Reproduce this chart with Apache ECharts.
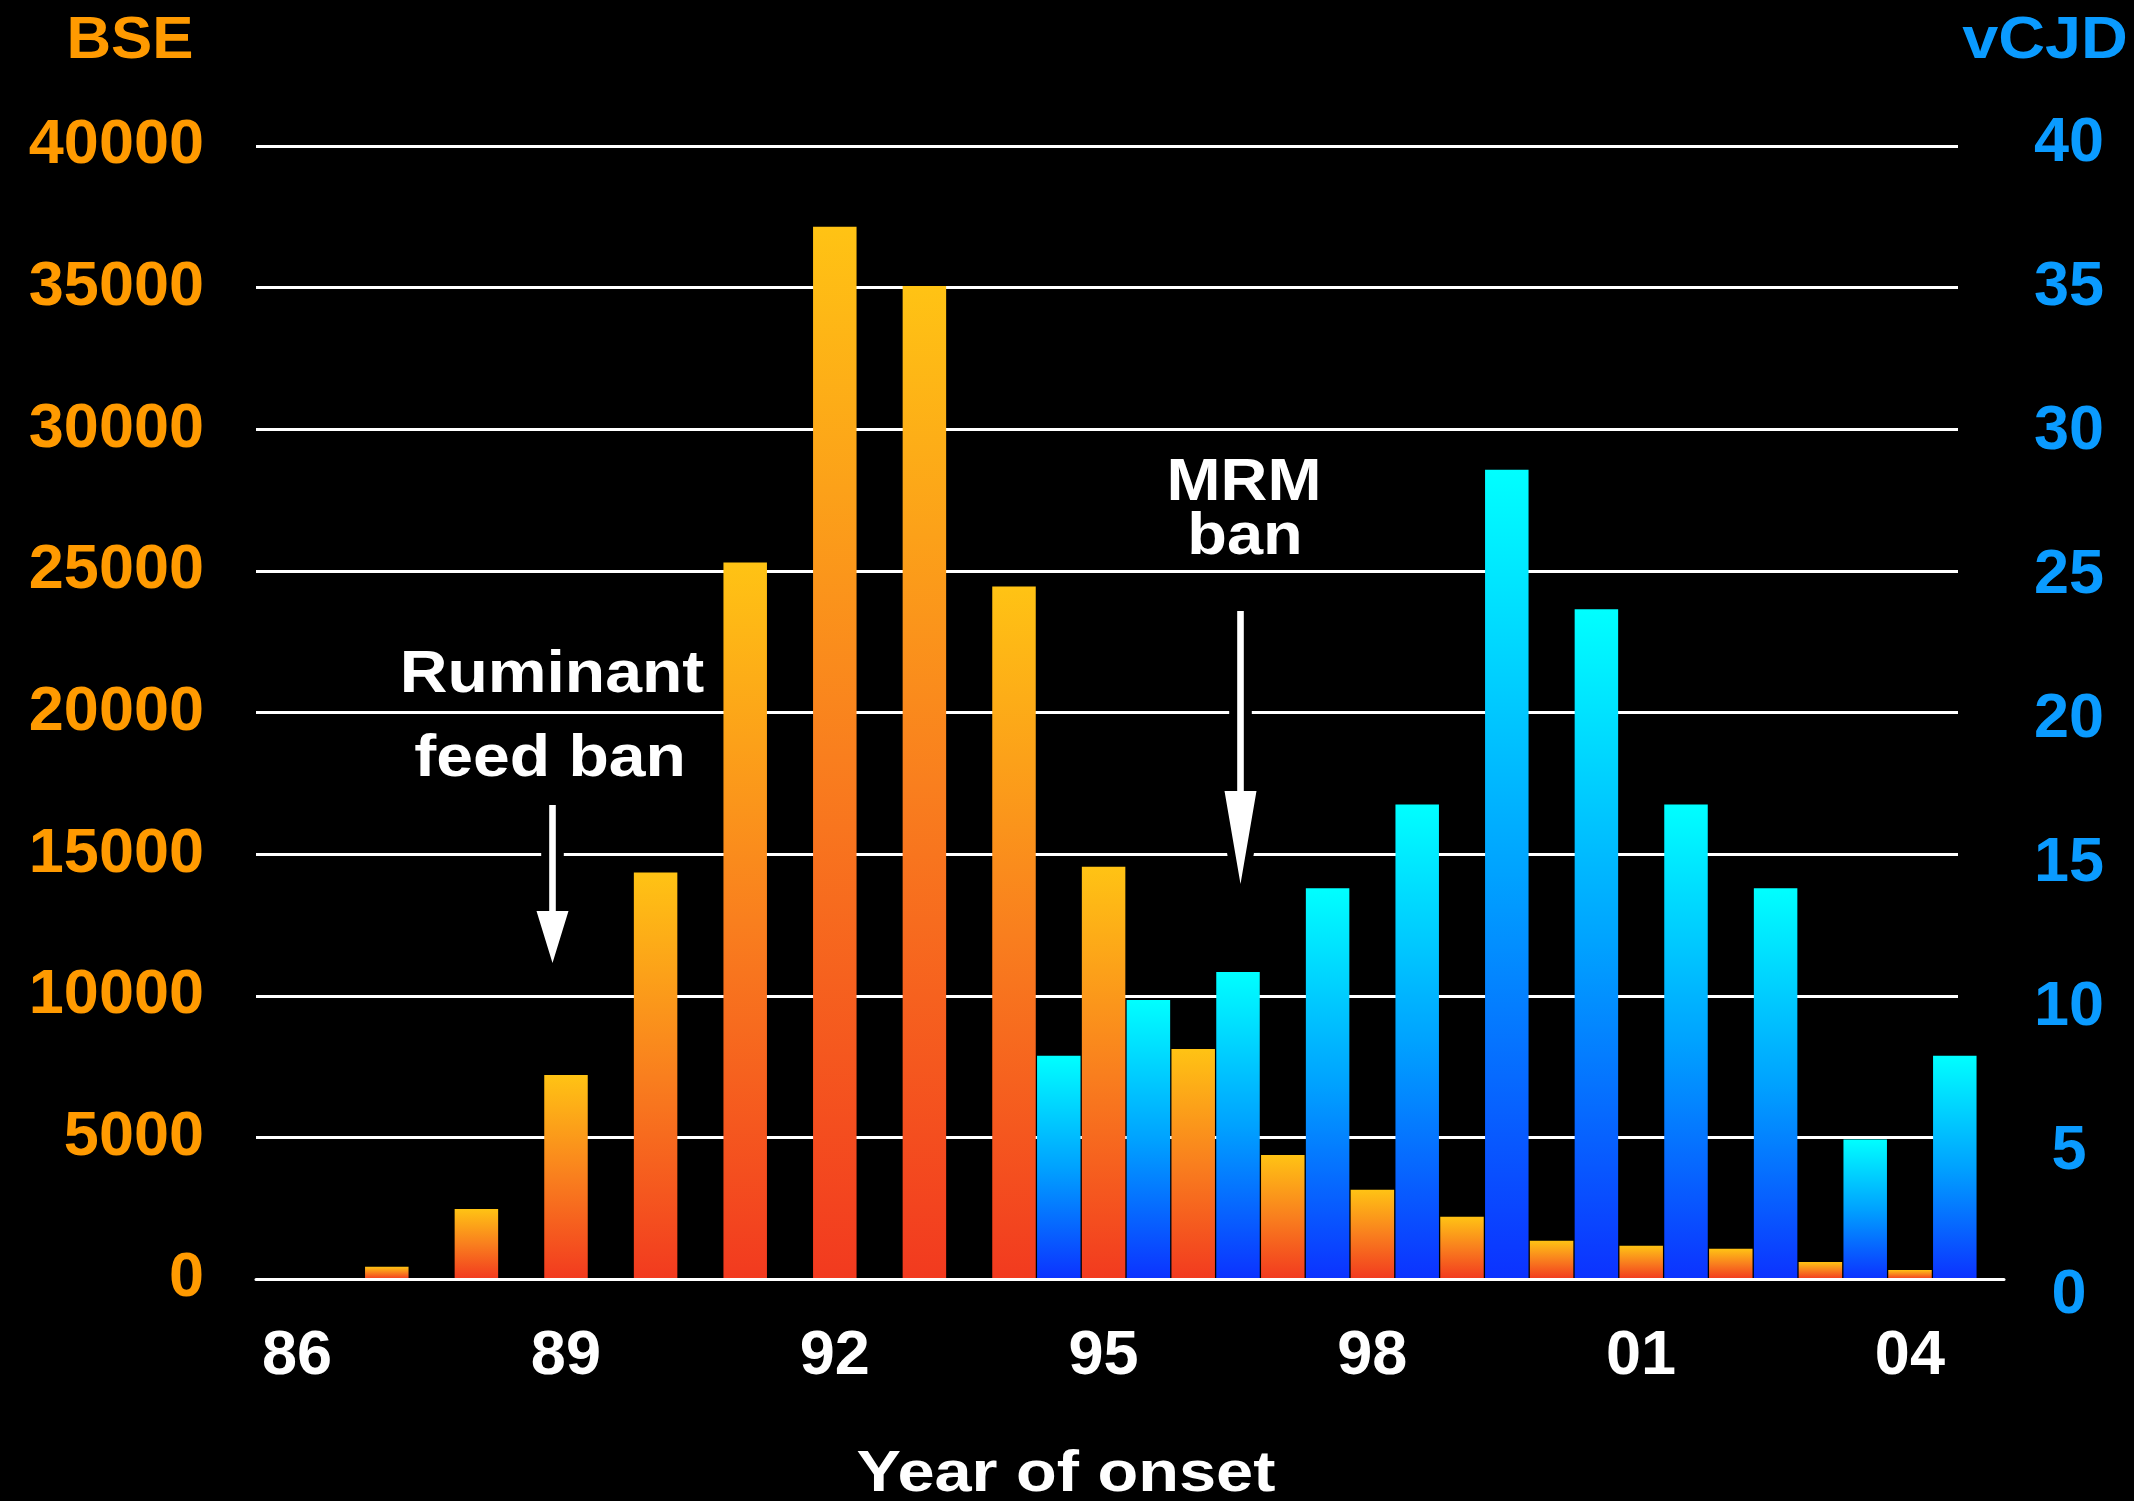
<!DOCTYPE html>
<html>
<head>
<meta charset="utf-8">
<script src="https://cdn.jsdelivr.net/npm/echarts@6/dist/echarts.min.js"></script>
<style>
  html, body { margin: 0; padding: 0; background: #000; }
  #chart { width: 2134px; height: 1501px; }
</style>
</head>
<body>
<div id="chart"></div>
<script>
// Year of onset (two-digit labels)
const years = ['86', '87', '88', '89', '90', '91', '92', '93', '94', '95',
               '96', '97', '98', '99', '00', '01', '02', '03', '04'];

// BSE cases by year of onset
const bseCases = [0, 430, 2470, 7200, 14350, 25300, 37150, 35060, 24450, 14550,
                  8120, 4380, 3150, 2200, 1350, 1170, 1070, 600, 320];

// vCJD cases by year of onset (none before 1994)
const vcjdCases = [null, null, null, null, null, null, null, null, 8, 10,
                   11, 14, 17, 29, 24, 17, 14, 5, 8];

// Axis ranges
const bseAxis = { min: 0, max: 40000, step: 5000 };
const vcjdAxis = { min: 0, max: 40, step: 5 };

const FONT = '"Liberation Sans", Arial, Helvetica, sans-serif';
const ORANGE = '#FF9A00';
const BLUE = '#0A9BFF';
const WHITE = '#FFFFFF';

const chart = echarts.init(document.getElementById('chart'), null, { renderer: 'canvas' });

const bseFill = new echarts.graphic.LinearGradient(0, 0, 0, 1, [
  { offset: 0, color: '#FFC314' },
  { offset: 0.5, color: '#F97F1E' },
  { offset: 1, color: '#F23A1F' }
]);
const vcjdFill = new echarts.graphic.LinearGradient(0, 0, 0, 1, [
  { offset: 0, color: '#00FFFF' },
  { offset: 0.5, color: '#00A2FF' },
  { offset: 1, color: '#0C32FF' }
]);

// A downward arrow with a black halo that breaks the grid lines around it
function arrow(cx, top, headTop, tip, halo) {
  const sw = 3.3, hw = 16;
  const pts = [
    [cx - sw, top], [cx + sw, top], [cx + sw, headTop], [cx + hw, headTop],
    [cx, tip], [cx - hw, headTop], [cx - sw, headTop]
  ];
  return {
    type: 'polygon',
    z: halo ? 20 : 21,
    shape: { points: pts },
    style: halo
      ? { fill: '#000', stroke: '#000', lineWidth: 16, lineJoin: 'miter' }
      : { fill: WHITE }
  };
}

function label(text, x, y, size, color, sx) {
  return {
    type: 'text',
    x: x, y: y,
    scaleX: sx,
    z: 30,
    style: {
      text: text,
      x: 0, y: 0,
      fill: color,
      font: 'bold ' + size + 'px ' + FONT,
      textAlign: 'center', align: 'center',
      textVerticalAlign: 'middle', verticalAlign: 'middle'
    }
  };
}

const option = {
  backgroundColor: '#000',
  animation: false,
  grid: [
    { left: 256, top: 146, width: 1702, height: 1133 },     // grid lines + BSE scale
    { left: 274.8, top: 146, width: 1702.4, height: 1133 }, // bars
    { left: 256, top: 146, width: 1748, height: 1133 },     // baseline
    { left: 256, top: 144, width: 1702, height: 1152 }      // vCJD scale
  ],
  xAxis: [
    { gridIndex: 0, type: 'category', data: years, show: false },
    {
      gridIndex: 1, type: 'category', data: years,
      axisLine: { show: false }, axisTick: { show: false },
      axisLabel: {
        interval: 2, color: WHITE, fontFamily: FONT, fontWeight: 'bold',
        fontSize: 63, margin: 46, padding: [0, 45, 0, 0]
      }
    },
    {
      gridIndex: 2, type: 'category', data: years, z: 5,
      axisLine: { show: true, lineStyle: { color: WHITE, width: 3 } },
      axisTick: { show: false }, axisLabel: { show: false }
    },
    { gridIndex: 3, type: 'category', data: years, show: false }
  ],
  yAxis: [
    {
      gridIndex: 0, type: 'value',
      min: bseAxis.min, max: bseAxis.max, interval: bseAxis.step,
      axisLine: { show: false }, axisTick: { show: false },
      splitLine: { show: true, lineStyle: { color: WHITE, width: 3 } },
      axisLabel: {
        color: ORANGE, fontFamily: FONT, fontWeight: 'bold', fontSize: 63, margin: 52,
        padding: [8, 0, 0, 0],
        formatter: function (v) { return String(v); }
      }
    },
    { gridIndex: 1, type: 'value', min: bseAxis.min, max: bseAxis.max, show: false, splitLine: { show: false } },
    { gridIndex: 1, type: 'value', min: 0, max: 40.6, show: false, splitLine: { show: false } },
    { gridIndex: 2, type: 'value', min: 0, max: 1, show: false, splitLine: { show: false } },
    {
      gridIndex: 3, type: 'value', position: 'right',
      min: vcjdAxis.min, max: vcjdAxis.max, interval: vcjdAxis.step,
      axisLine: { show: false }, axisTick: { show: false }, splitLine: { show: false },
      axisLabel: {
        color: BLUE, fontFamily: FONT, fontWeight: 'bold', fontSize: 63, margin: 111, align: 'center',
        formatter: function (v) { return String(v); }
      }
    }
  ],
  series: [
    {
      name: 'BSE', type: 'bar', xAxisIndex: 1, yAxisIndex: 1,
      data: bseCases, barWidth: 43.5, barGap: '3%',
      itemStyle: { color: bseFill }
    },
    {
      name: 'vCJD', type: 'bar', xAxisIndex: 1, yAxisIndex: 2,
      data: vcjdCases, barWidth: 43.5, barGap: '3%',
      itemStyle: { color: vcjdFill }
    }
  ],
  graphic: [
    label('BSE', 130, 41, 60, ORANGE, 1.03),
    label('vCJD', 2045, 41, 60, BLUE, 1.08),
    label('Ruminant', 552, 676, 59, WHITE, 1.12),
    label('feed ban', 550, 760, 59, WHITE, 1.12),
    label('MRM', 1244, 484, 59, WHITE, 1.1),
    label('ban', 1245, 538, 59, WHITE, 1.1),
    label('Year of onset', 1066, 1475, 58, WHITE, 1.15),
    arrow(552.5, 805, 911, 963, true),
    arrow(552.5, 805, 911, 963, false),
    arrow(1240.5, 611, 791, 884, true),
    arrow(1240.5, 611, 791, 884, false)
  ]
};

chart.setOption(option);
</script>
</body>
</html>
